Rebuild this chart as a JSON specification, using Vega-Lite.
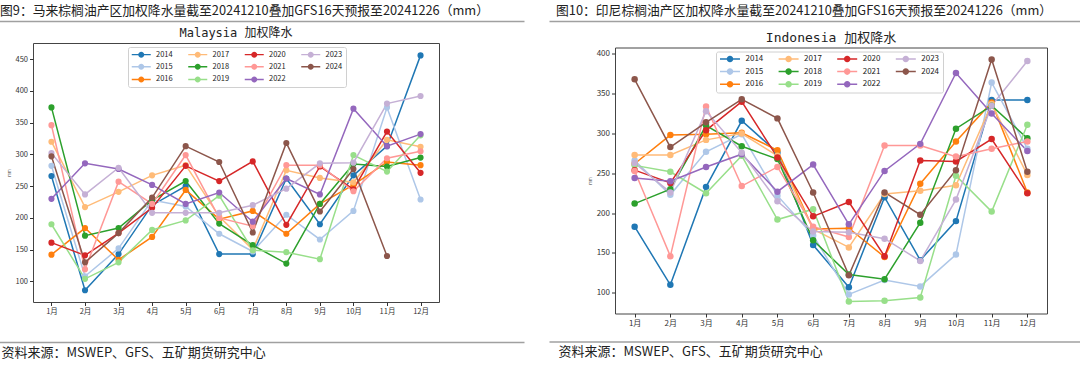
{
"$schema": "https://vega.github.io/schema/vega-lite/v6.json",
"padding": {"left": 0, "top": 5, "right": 0, "bottom": 0},
"background": "white",
"config": {
 "font": "Noto Sans CJK SC",
 "axis": {"grid": false, "domain": false, "labelFont": "Noto Sans CJK SC", "labelColor": "#333", "tickColor": "#333", "titleFont": "Noto Sans CJK SC", "titleFontWeight": "normal", "titleColor": "#333"},
 "legend": {"labelFont": "Noto Sans CJK SC", "labelColor": "#222"},
 "title": {"font": "Noto Sans CJK SC", "fontWeight": "normal", "color": "#222"}
},
"datasets": {
 "my": [
{"year":"2014","month":"1月","value":266},{"year":"2014","month":"2月","value":86},{"year":"2014","month":"3月","value":143},{"year":"2014","month":"4月","value":220},{"year":"2014","month":"5月","value":250},{"year":"2014","month":"6月","value":143},{"year":"2014","month":"7月","value":143},{"year":"2014","month":"8月","value":262},{"year":"2014","month":"9月","value":190},{"year":"2014","month":"10月","value":267},{"year":"2014","month":"11月","value":313},{"year":"2014","month":"12月","value":456},
{"year":"2015","month":"1月","value":282},{"year":"2015","month":"2月","value":108},{"year":"2015","month":"3月","value":152},{"year":"2015","month":"4月","value":228},{"year":"2015","month":"5月","value":218},{"year":"2015","month":"6月","value":175},{"year":"2015","month":"7月","value":147},{"year":"2015","month":"8月","value":205},{"year":"2015","month":"9月","value":166},{"year":"2015","month":"10月","value":211},{"year":"2015","month":"11月","value":374},{"year":"2015","month":"12月","value":229},
{"year":"2016","month":"1月","value":142},{"year":"2016","month":"2月","value":184},{"year":"2016","month":"3月","value":134},{"year":"2016","month":"4月","value":170},{"year":"2016","month":"5月","value":244},{"year":"2016","month":"6月","value":198},{"year":"2016","month":"7月","value":211},{"year":"2016","month":"8月","value":175},{"year":"2016","month":"9月","value":222},{"year":"2016","month":"10月","value":252},{"year":"2016","month":"11月","value":288},{"year":"2016","month":"12月","value":283},
{"year":"2017","month":"1月","value":320},{"year":"2017","month":"2月","value":217},{"year":"2017","month":"3月","value":241},{"year":"2017","month":"4月","value":267},{"year":"2017","month":"5月","value":283},{"year":"2017","month":"6月","value":202},{"year":"2017","month":"7月","value":150},{"year":"2017","month":"8月","value":275},{"year":"2017","month":"9月","value":263},{"year":"2017","month":"10月","value":256},{"year":"2017","month":"11月","value":323},{"year":"2017","month":"12月","value":312},
{"year":"2018","month":"1月","value":374},{"year":"2018","month":"2月","value":172},{"year":"2018","month":"3月","value":184},{"year":"2018","month":"4月","value":228},{"year":"2018","month":"5月","value":258},{"year":"2018","month":"6月","value":191},{"year":"2018","month":"7月","value":157},{"year":"2018","month":"8月","value":128},{"year":"2018","month":"9月","value":222},{"year":"2018","month":"10月","value":285},{"year":"2018","month":"11月","value":281},{"year":"2018","month":"12月","value":295},
{"year":"2019","month":"1月","value":190},{"year":"2019","month":"2月","value":104},{"year":"2019","month":"3月","value":130},{"year":"2019","month":"4月","value":181},{"year":"2019","month":"5月","value":196},{"year":"2019","month":"6月","value":235},{"year":"2019","month":"7月","value":149},{"year":"2019","month":"8月","value":146},{"year":"2019","month":"9月","value":135},{"year":"2019","month":"10月","value":299},{"year":"2019","month":"11月","value":273},{"year":"2019","month":"12月","value":330},
{"year":"2020","month":"1月","value":161},{"year":"2020","month":"2月","value":141},{"year":"2020","month":"3月","value":176},{"year":"2020","month":"4月","value":216},{"year":"2020","month":"5月","value":282},{"year":"2020","month":"6月","value":258},{"year":"2020","month":"7月","value":289},{"year":"2020","month":"8月","value":189},{"year":"2020","month":"9月","value":281},{"year":"2020","month":"10月","value":245},{"year":"2020","month":"11月","value":336},{"year":"2020","month":"12月","value":271},
{"year":"2021","month":"1月","value":346},{"year":"2021","month":"2月","value":119},{"year":"2021","month":"3月","value":257},{"year":"2021","month":"4月","value":222},{"year":"2021","month":"5月","value":299},{"year":"2021","month":"6月","value":200},{"year":"2021","month":"7月","value":187},{"year":"2021","month":"8月","value":283},{"year":"2021","month":"9月","value":283},{"year":"2021","month":"10月","value":242},{"year":"2021","month":"11月","value":294},{"year":"2021","month":"12月","value":305},
{"year":"2022","month":"1月","value":230},{"year":"2022","month":"2月","value":286},{"year":"2022","month":"3月","value":277},{"year":"2022","month":"4月","value":252},{"year":"2022","month":"5月","value":222},{"year":"2022","month":"6月","value":240},{"year":"2022","month":"7月","value":194},{"year":"2022","month":"8月","value":262},{"year":"2022","month":"9月","value":237},{"year":"2022","month":"10月","value":372},{"year":"2022","month":"11月","value":313},{"year":"2022","month":"12月","value":332},
{"year":"2023","month":"1月","value":302},{"year":"2023","month":"2月","value":237},{"year":"2023","month":"3月","value":279},{"year":"2023","month":"4月","value":208},{"year":"2023","month":"5月","value":208},{"year":"2023","month":"6月","value":208},{"year":"2023","month":"7月","value":220},{"year":"2023","month":"8月","value":246},{"year":"2023","month":"9月","value":286},{"year":"2023","month":"10月","value":287},{"year":"2023","month":"11月","value":380},{"year":"2023","month":"12月","value":392},
{"year":"2024","month":"1月","value":297},{"year":"2024","month":"2月","value":130},{"year":"2024","month":"3月","value":176},{"year":"2024","month":"4月","value":232},{"year":"2024","month":"5月","value":313},{"year":"2024","month":"6月","value":288},{"year":"2024","month":"7月","value":177},{"year":"2024","month":"8月","value":318},{"year":"2024","month":"9月","value":210},{"year":"2024","month":"10月","value":277},{"year":"2024","month":"11月","value":140}
 ],
 "id": [
{"year":"2014","month":"1月","value":183},{"year":"2014","month":"2月","value":110},{"year":"2014","month":"3月","value":233},{"year":"2014","month":"4月","value":316},{"year":"2014","month":"5月","value":276},{"year":"2014","month":"6月","value":160},{"year":"2014","month":"7月","value":107},{"year":"2014","month":"8月","value":220},{"year":"2014","month":"9月","value":141},{"year":"2014","month":"10月","value":190},{"year":"2014","month":"11月","value":342},{"year":"2014","month":"12月","value":342},
{"year":"2015","month":"1月","value":266},{"year":"2015","month":"2月","value":223},{"year":"2015","month":"3月","value":277},{"year":"2015","month":"4月","value":299},{"year":"2015","month":"5月","value":222},{"year":"2015","month":"6月","value":172},{"year":"2015","month":"7月","value":98},{"year":"2015","month":"8月","value":116},{"year":"2015","month":"9月","value":108},{"year":"2015","month":"10月","value":148},{"year":"2015","month":"11月","value":364},{"year":"2015","month":"12月","value":281},
{"year":"2016","month":"1月","value":262},{"year":"2016","month":"2月","value":298},{"year":"2016","month":"3月","value":299},{"year":"2016","month":"4月","value":301},{"year":"2016","month":"5月","value":279},{"year":"2016","month":"6月","value":180},{"year":"2016","month":"7月","value":181},{"year":"2016","month":"8月","value":145},{"year":"2016","month":"9月","value":237},{"year":"2016","month":"10月","value":290},{"year":"2016","month":"11月","value":339},{"year":"2016","month":"12月","value":226},
{"year":"2017","month":"1月","value":273},{"year":"2017","month":"2月","value":273},{"year":"2017","month":"3月","value":292},{"year":"2017","month":"4月","value":300},{"year":"2017","month":"5月","value":272},{"year":"2017","month":"6月","value":180},{"year":"2017","month":"7月","value":157},{"year":"2017","month":"8月","value":224},{"year":"2017","month":"9月","value":228},{"year":"2017","month":"10月","value":235},{"year":"2017","month":"11月","value":337},{"year":"2017","month":"12月","value":248},
{"year":"2018","month":"1月","value":212},{"year":"2018","month":"2月","value":230},{"year":"2018","month":"3月","value":310},{"year":"2018","month":"4月","value":284},{"year":"2018","month":"5月","value":268},{"year":"2018","month":"6月","value":166},{"year":"2018","month":"7月","value":123},{"year":"2018","month":"8月","value":117},{"year":"2018","month":"9月","value":188},{"year":"2018","month":"10月","value":306},{"year":"2018","month":"11月","value":335},{"year":"2018","month":"12月","value":294},
{"year":"2019","month":"1月","value":260},{"year":"2019","month":"2月","value":252},{"year":"2019","month":"3月","value":225},{"year":"2019","month":"4月","value":272},{"year":"2019","month":"5月","value":192},{"year":"2019","month":"6月","value":205},{"year":"2019","month":"7月","value":89},{"year":"2019","month":"8月","value":90},{"year":"2019","month":"9月","value":94},{"year":"2019","month":"10月","value":247},{"year":"2019","month":"11月","value":202},{"year":"2019","month":"12月","value":311},
{"year":"2020","month":"1月","value":254},{"year":"2020","month":"2月","value":238},{"year":"2020","month":"3月","value":304},{"year":"2020","month":"4月","value":340},{"year":"2020","month":"5月","value":270},{"year":"2020","month":"6月","value":196},{"year":"2020","month":"7月","value":214},{"year":"2020","month":"8月","value":146},{"year":"2020","month":"9月","value":266},{"year":"2020","month":"10月","value":265},{"year":"2020","month":"11月","value":293},{"year":"2020","month":"12月","value":225},
{"year":"2021","month":"1月","value":253},{"year":"2021","month":"2月","value":146},{"year":"2021","month":"3月","value":334},{"year":"2021","month":"4月","value":234},{"year":"2021","month":"5月","value":258},{"year":"2021","month":"6月","value":183},{"year":"2021","month":"7月","value":170},{"year":"2021","month":"8月","value":285},{"year":"2021","month":"9月","value":285},{"year":"2021","month":"10月","value":271},{"year":"2021","month":"11月","value":281},{"year":"2021","month":"12月","value":290},
{"year":"2022","month":"1月","value":244},{"year":"2022","month":"2月","value":240},{"year":"2022","month":"3月","value":258},{"year":"2022","month":"4月","value":274},{"year":"2022","month":"5月","value":227},{"year":"2022","month":"6月","value":261},{"year":"2022","month":"7月","value":186},{"year":"2022","month":"8月","value":253},{"year":"2022","month":"9月","value":287},{"year":"2022","month":"10月","value":376},{"year":"2022","month":"11月","value":325},{"year":"2022","month":"12月","value":278},
{"year":"2023","month":"1月","value":263},{"year":"2023","month":"2月","value":226},{"year":"2023","month":"3月","value":328},{"year":"2023","month":"4月","value":276},{"year":"2023","month":"5月","value":215},{"year":"2023","month":"6月","value":177},{"year":"2023","month":"7月","value":176},{"year":"2023","month":"8月","value":168},{"year":"2023","month":"9月","value":140},{"year":"2023","month":"10月","value":217},{"year":"2023","month":"11月","value":335},{"year":"2023","month":"12月","value":391},
{"year":"2024","month":"1月","value":368},{"year":"2024","month":"2月","value":283},{"year":"2024","month":"3月","value":314},{"year":"2024","month":"4月","value":343},{"year":"2024","month":"5月","value":319},{"year":"2024","month":"6月","value":226},{"year":"2024","month":"7月","value":122},{"year":"2024","month":"8月","value":226},{"year":"2024","month":"9月","value":198},{"year":"2024","month":"10月","value":254},{"year":"2024","month":"11月","value":393},{"year":"2024","month":"12月","value":252}
 ]
},
"hconcat": [
 {
  "concat": [
   {
    "width": 491, "height": 1, "view": {"stroke": null},
    "title": {"text": "图9：马来棕榈油产区加权降水量截至20241210叠加GFS16天预报至20241226（mm）", "anchor": "start", "frame": "group", "fontSize": 12.8, "offset": 2, "dx": -33},
    "data": {"values": []},
    "mark": {"type": "point"},
    "encoding": {"x": {"field": "x", "type": "quantitative", "scale": {"domain": [0, 1], "range": [-36, 491]}, "axis": {"domain": true, "domainColor": "#a0a0a0", "domainWidth": 1.5, "ticks": false, "labels": false, "title": null}}}
   },
   {
    "width": 406, "height": 259,
    "view": {"stroke": "#444", "strokeWidth": 1},
    "title": {"text": "Malaysia 加权降水", "font": "DejaVu Sans Mono, Noto Sans CJK SC", "fontSize": 12, "offset": 3, "anchor": "middle"},
    "data": {"name": "my"},
    "encoding": {
     "x": {"field": "month", "type": "ordinal", "sort": ["1月","2月","3月","4月","5月","6月","7月","8月","9月","10月","11月","12月"], "scale": {"type": "point", "padding": 0.55, "domain": ["1月","2月","3月","4月","5月","6月","7月","8月","9月","10月","11月","12月"]}, "axis": {"labelAngle": 0, "title": null, "tickSize": 3.5, "labelPadding": 2, "labelFontSize": 7.5}},
     "y": {"field": "value", "type": "quantitative", "scale": {"domain": [67.5, 475.5], "nice": false, "zero": false}, "axis": {"values": [100,150,200,250,300,350,400,450], "title": "mm", "titleFontSize": 4, "titlePadding": 4, "tickSize": 3.5, "labelPadding": 2, "labelFontSize": 7.5}},
     "color": {"field": "year", "type": "nominal", "scale": {"domain": ["2014","2017","2020","2023","2015","2018","2021","2024","2016","2019","2022"], "range": ["#1f77b4","#ffbb78","#d62728","#c5b0d5","#aec7e8","#2ca02c","#ff9896","#8c564b","#ff7f0e","#98df8a","#9467bd"]},
      "legend": {"title": null, "orient": "none", "legendX": 95, "legendY": 4, "direction": "horizontal", "columns": 4, "padding": 3.5, "strokeColor": "#d0d0d0", "fillColor": "rgba(255,255,255,0.85)", "cornerRadius": 2, "labelFontSize": 7.5, "labelOffset": 17, "columnPadding": 14.5, "rowPadding": 3.6, "symbolSize": 49, "symbolStrokeWidth": 0, "symbolType": "M-1,-0.214L4.43,-0.214L4.43,0.214L-1,0.214Z M2.571,0A0.857,0.857,0,1,1,0.857,0A0.857,0.857,0,1,1,2.571,0Z"}}
    },
    "layer": [
     {"mark": {"type": "line", "strokeWidth": 1.5}},
     {"mark": {"type": "point", "filled": true, "size": 38, "opacity": 1}}
    ]
   },
   {
    "width": 491, "height": 21, "view": {"stroke": null},
    "data": {"values": []},
    "mark": {"type": "point"},
    "encoding": {"x": {"field": "x", "type": "quantitative", "scale": {"domain": [0, 1], "range": [-36, 491]}, "axis": {"domain": true, "domainColor": "#a0a0a0", "domainWidth": 1.5, "ticks": false, "labels": false, "title": "资料来源：MSWEP、GFS、五矿期货研究中心", "titleAnchor": "start", "titleAlign": "left", "titleX": -32, "titleFontSize": 13, "titleColor": "#222", "titlePadding": 4}}}
   }
  ],
  "columns": 1,
  "spacing": 5,
  "resolve": {"scale": {"color": "independent"}, "legend": {"color": "independent"}}
 },
 {
  "concat": [
   {
    "width": 465, "height": 1, "view": {"stroke": null},
    "title": {"text": "图10：印尼棕榈油产区加权降水量截至20241210叠加GFS16天预报至20241226（mm）", "anchor": "start", "frame": "group", "fontSize": 12.8, "offset": 2, "dx": -59},
    "data": {"values": []},
    "mark": {"type": "point"},
    "encoding": {"x": {"field": "x", "type": "quantitative", "scale": {"domain": [0, 1], "range": [-66, 465]}, "axis": {"domain": true, "domainColor": "#a0a0a0", "domainWidth": 1.5, "ticks": false, "labels": false, "title": null}}}
   },
   {
    "width": 432, "height": 266,
    "view": {"stroke": "#444", "strokeWidth": 1},
    "title": {"text": "Indonesia 加权降水", "font": "DejaVu Sans Mono, Noto Sans CJK SC", "fontSize": 13, "offset": 3, "anchor": "middle"},
    "data": {"name": "id"},
    "encoding": {
     "x": {"field": "month", "type": "ordinal", "sort": ["1月","2月","3月","4月","5月","6月","7月","8月","9月","10月","11月","12月"], "scale": {"type": "point", "padding": 0.55, "domain": ["1月","2月","3月","4月","5月","6月","7月","8月","9月","10月","11月","12月"]}, "axis": {"labelAngle": 0, "title": null, "tickSize": 3.5, "labelPadding": 2, "labelFontSize": 8}},
     "y": {"field": "value", "type": "quantitative", "scale": {"domain": [74, 408], "nice": false, "zero": false}, "axis": {"values": [100,150,200,250,300,350,400], "title": "mm", "titleFontSize": 4, "titlePadding": 4, "tickSize": 3.5, "labelPadding": 2, "labelFontSize": 8}},
     "color": {"field": "year", "type": "nominal", "scale": {"domain": ["2014","2017","2020","2023","2015","2018","2021","2024","2016","2019","2022"], "range": ["#1f77b4","#ffbb78","#d62728","#c5b0d5","#aec7e8","#2ca02c","#ff9896","#8c564b","#ff7f0e","#98df8a","#9467bd"]},
      "legend": {"title": null, "orient": "none", "legendX": 101, "legendY": 4, "direction": "horizontal", "columns": 4, "padding": 3.5, "strokeColor": "#d0d0d0", "fillColor": "rgba(255,255,255,0.85)", "cornerRadius": 2, "labelFontSize": 8, "labelOffset": 18, "columnPadding": 14.6, "rowPadding": 4.6, "symbolSize": 49, "symbolStrokeWidth": 0, "symbolType": "M-1,-0.214L4.714,-0.214L4.714,0.214L-1,0.214Z M2.797,0A0.94,0.94,0,1,1,0.917,0A0.94,0.94,0,1,1,2.797,0Z"}}
    },
    "layer": [
     {"mark": {"type": "line", "strokeWidth": 1.5}},
     {"mark": {"type": "point", "filled": true, "size": 42, "opacity": 1}}
    ]
   },
   {
    "width": 465, "height": 4.5, "view": {"stroke": null},
    "data": {"values": []},
    "mark": {"type": "point"},
    "encoding": {"x": {"field": "x", "type": "quantitative", "scale": {"domain": [0, 1], "range": [-66, 465]}, "axis": {"domain": true, "domainColor": "#a0a0a0", "domainWidth": 1.5, "ticks": false, "labels": false, "title": "资料来源：MSWEP、GFS、五矿期货研究中心", "titleAnchor": "start", "titleAlign": "left", "titleX": -57, "titleFontSize": 13, "titleColor": "#222", "titlePadding": 4}}}
   }
  ],
  "columns": 1,
  "spacing": 9.5,
  "resolve": {"scale": {"color": "independent"}, "legend": {"color": "independent"}}
 }
],
"spacing": -4,
"resolve": {"scale": {"color": "independent"}, "legend": {"color": "independent"}}
}
